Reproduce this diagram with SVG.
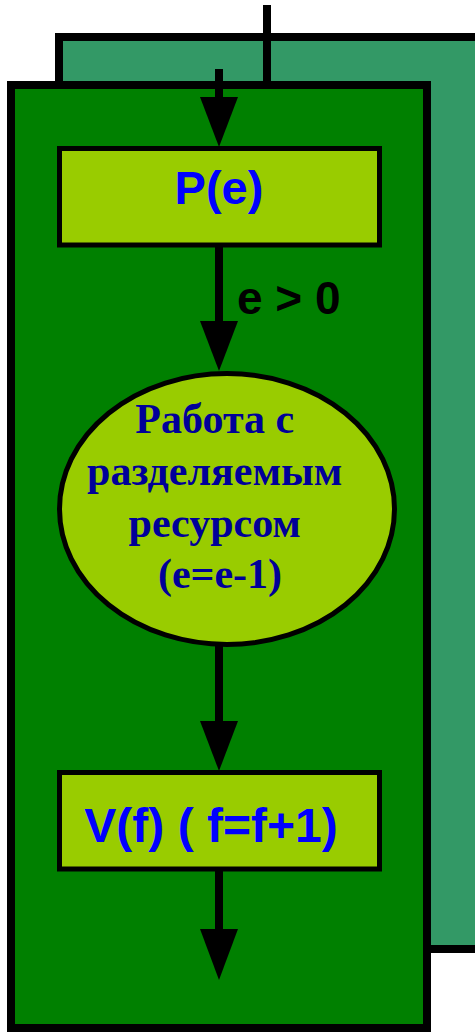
<svg xmlns="http://www.w3.org/2000/svg" width="475" height="1032" viewBox="0 0 475 1032">
<style>
.panel{stroke:#000;stroke-width:8}
.box{fill:#99CC00;stroke:#000;stroke-width:5}
.conn{stroke:#000;stroke-width:8;fill:none}
.head{fill:#000}
.sans{font-family:"Liberation Sans",Arial,sans-serif;font-weight:bold}
.serif{font-family:"Liberation Serif","Times New Roman",serif;font-weight:bold;fill:#000099;font-size:42px}
</style>
<rect width="475" height="1032" fill="#fff"/>
<g id="back-panel"><rect class="panel" x="59" y="37" width="420" height="912" fill="#339966"/></g>
<g id="entry-line"><line class="conn" x1="267" y1="5" x2="267" y2="85"/></g>
<g id="front-panel"><rect class="panel" x="11" y="85" width="416" height="943" fill="#008000"/></g>
<g id="connectors">
<line class="conn" x1="219" y1="69" x2="219" y2="100"/>
<polygon class="head" points="200,97 238,97 219,147"/>
<line class="conn" x1="219" y1="245" x2="219" y2="324"/>
<polygon class="head" points="200,321 238,321 219,371"/>
<line class="conn" x1="219" y1="645" x2="219" y2="724"/>
<polygon class="head" points="200,721 238,721 219,771"/>
<line class="conn" x1="219" y1="869" x2="219" y2="932"/>
<polygon class="head" points="200,929 238,929 219,980"/>
<text class="sans" x="237" y="314" font-size="46" fill="#000">e &gt; 0</text>
</g>
<g id="P">
<rect class="box" x="59.5" y="148.5" width="320" height="96.5"/>
<text class="sans" x="219" y="204" font-size="47" fill="#0000FF" text-anchor="middle">P(e)</text>
</g>
<g id="work">
<ellipse cx="227" cy="509" rx="167.5" ry="135.5" fill="#99CC00" stroke="#000" stroke-width="5"/>
<text class="serif" text-anchor="middle">
<tspan x="220" y="433">Работа с</tspan>
<tspan x="220" y="485">разделяемым</tspan>
<tspan x="220" y="537">ресурсом</tspan>
<tspan x="220" y="588">(e=e-1)</tspan>
</text>
</g>
<g id="V">
<rect class="box" x="59.5" y="772.5" width="320" height="96.5"/>
<text class="sans" x="211" y="842" font-size="48" fill="#0000FF" text-anchor="middle">V(f) ( f=f+1)</text>
</g>
</svg>
